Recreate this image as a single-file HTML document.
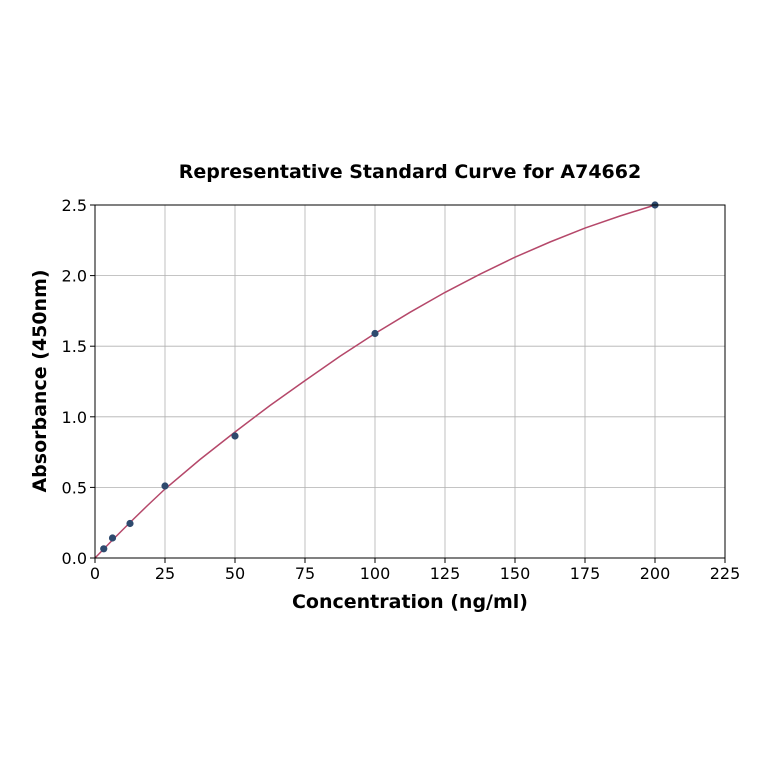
<!DOCTYPE html>
<html><head><meta charset="utf-8"><style>
body{margin:0;background:#fff}
text{font-family:"DejaVu Sans","Liberation Sans",sans-serif;fill:#000}
</style></head><body>
<svg width="764" height="764" viewBox="0 0 764 764" xmlns="http://www.w3.org/2000/svg">
<rect width="764" height="764" fill="#fff"/>
<g stroke="#b0b0b0" stroke-width="0.8">
<line x1="165" y1="205" x2="165" y2="558"/><line x1="235" y1="205" x2="235" y2="558"/>
<line x1="305" y1="205" x2="305" y2="558"/><line x1="375" y1="205" x2="375" y2="558"/>
<line x1="445" y1="205" x2="445" y2="558"/><line x1="515" y1="205" x2="515" y2="558"/>
<line x1="585" y1="205" x2="585" y2="558"/><line x1="655" y1="205" x2="655" y2="558"/>
<line x1="95" y1="487.4" x2="725" y2="487.4"/><line x1="95" y1="416.8" x2="725" y2="416.8"/>
<line x1="95" y1="346.2" x2="725" y2="346.2"/><line x1="95" y1="275.6" x2="725" y2="275.6"/>
</g>
<polyline fill="none" stroke="#b5486a" stroke-width="1.5" points="95,558 112.5,540 130,522.5 147.5,505.5 165,489 200,459.5 235,432 270,405.5 305,380.6 340,356.3 375,333.5 410,312.3 445,292.4 480,274.2 515,257.2 550,242 585,228.1 620,216 655,205"/>
<g fill="#2e4a6e">
<circle cx="103.75" cy="548.8" r="3.6"/><circle cx="112.5" cy="538" r="3.6"/>
<circle cx="130" cy="523.5" r="3.6"/><circle cx="165" cy="486" r="3.6"/>
<circle cx="235" cy="436" r="3.6"/><circle cx="375" cy="333.5" r="3.6"/>
<circle cx="655" cy="205" r="3.6"/>
</g>
<rect x="95" y="205" width="630" height="353" fill="none" stroke="#000" stroke-width="1"/>
<g stroke="#000" stroke-width="1">
<line x1="95" y1="558" x2="95" y2="563"/><line x1="165" y1="558" x2="165" y2="563"/>
<line x1="235" y1="558" x2="235" y2="563"/><line x1="305" y1="558" x2="305" y2="563"/>
<line x1="375" y1="558" x2="375" y2="563"/><line x1="445" y1="558" x2="445" y2="563"/>
<line x1="515" y1="558" x2="515" y2="563"/><line x1="585" y1="558" x2="585" y2="563"/>
<line x1="655" y1="558" x2="655" y2="563"/><line x1="725" y1="558" x2="725" y2="563"/>
<line x1="90" y1="558" x2="95" y2="558"/><line x1="90" y1="487.4" x2="95" y2="487.4"/>
<line x1="90" y1="416.8" x2="95" y2="416.8"/><line x1="90" y1="346.2" x2="95" y2="346.2"/>
<line x1="90" y1="275.6" x2="95" y2="275.6"/><line x1="90" y1="205" x2="95" y2="205"/>
</g>
<g font-size="16" text-anchor="middle">
<text x="95" y="579">0</text><text x="165" y="579">25</text><text x="235" y="579">50</text>
<text x="305" y="579">75</text><text x="375" y="579">100</text><text x="445" y="579">125</text>
<text x="515" y="579">150</text><text x="585" y="579">175</text><text x="655" y="579">200</text>
<text x="725" y="579">225</text>
</g>
<g font-size="16" text-anchor="end">
<text x="87" y="564">0.0</text><text x="87" y="493.4">0.5</text><text x="87" y="422.8">1.0</text>
<text x="87" y="352.2">1.5</text><text x="87" y="281.6">2.0</text><text x="87" y="211">2.5</text>
</g>
<text x="410" y="608" font-size="19" font-weight="bold" text-anchor="middle">Concentration (ng/ml)</text>
<text transform="translate(46,381) rotate(-90)" font-size="19" font-weight="bold" text-anchor="middle">Absorbance (450nm)</text>
<text x="410" y="178" font-size="19" font-weight="bold" text-anchor="middle">Representative Standard Curve for A74662</text>
</svg>
</body></html>
